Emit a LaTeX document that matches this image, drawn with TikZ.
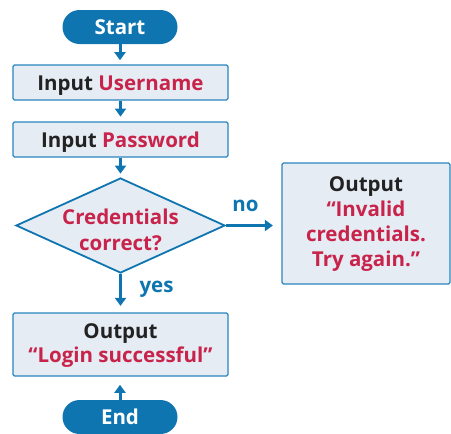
\documentclass[tikz,border=0pt]{standalone}
\usepackage{fontspec}
\setmainfont{Open Sans}
\usetikzlibrary{shapes.geometric,shapes.misc,arrows.meta}
\definecolor{fcblue}{HTML}{0E75B0}
\definecolor{fcline}{HTML}{2A86BE}
\definecolor{fcfill}{HTML}{E6ECF4}
\definecolor{fcred}{HTML}{C8234A}
\definecolor{fcdark}{HTML}{222222}
\newcommand{\ml}[1]{\begin{tabular}[t]{@{}c@{}}#1\end{tabular}}
\begin{document}
\begin{tikzpicture}[x=1pt,y=-1pt,
  every node/.style={font=\fontsize{20.5}{25}\selectfont\bfseries},
  term/.style={rounded rectangle, fill=fcblue, text=white, minimum width=115pt, minimum height=34pt, inner sep=0pt, text height=15.5pt, text depth=0pt},
  proc/.style={rectangle, draw=fcline, line width=1.2pt, fill=fcfill, text=fcdark, minimum width=215pt, minimum height=35pt, inner sep=0pt, rounded corners=1.5pt, text height=15pt, text depth=0pt},
  dec/.style={diamond, draw=fcblue, line width=1.8pt, fill=fcfill, text=fcred, minimum width=209pt, minimum height=95pt, inner sep=0pt, aspect=2.2, text height=0pt, text depth=1.4pt, font=\fontsize{20.5}{25.5}\selectfont\bfseries},
  conn/.style={draw=fcblue, line width=3pt, -{Triangle[width=11pt,length=8pt]}},
  lbl/.style={text=fcblue, anchor=base, inner sep=0pt}
]
\useasboundingbox (0,0) rectangle (451,434);
\node[term] (start) at (120,27) {Start};
\node[proc] (user) at (120.5,82.5) {Input \textcolor{fcred}{Username}};
\node[proc] (pass) at (120.5,139.5) {Input \textcolor{fcred}{Password}};
\node[dec] (cred) at (120.5,225.5) {\ml{Credentials\\correct?}};
\node[proc, minimum width=168pt, minimum height=121pt, text height=0pt, text depth=65pt, font=\fontsize{20.5}{25.2}\selectfont\bfseries] (inval) at (366,223.5) {\ml{Output\\\textcolor{fcred}{“Invalid}\\\textcolor{fcred}{credentials.}\\\textcolor{fcred}{Try again.”}}};
\node[proc, minimum height=63pt, text height=0pt, text depth=12.4pt, font=\fontsize{20.5}{24.5}\selectfont\bfseries] (succ) at (120.5,344.5) {\ml{Output\\\textcolor{fcred}{“Login successful”}}};
\node[term] (end) at (120,417) {End};
\draw[conn] (start.south) -- ++(0,16);
\draw[conn] (user.south) -- ++(0,16);
\draw[conn] (pass.south) -- ++(0,16);
\draw[conn] (cred.east) -- ++(47,0);
\draw[conn] (cred.south) -- ++(0,32);
\draw[conn] (end.north) -- ++(0,-15);
\node[lbl] (no) at (245.5,211.7) {no};
\node[lbl] (yes) at (156.5,292) {yes};
\end{tikzpicture}
\end{document}
